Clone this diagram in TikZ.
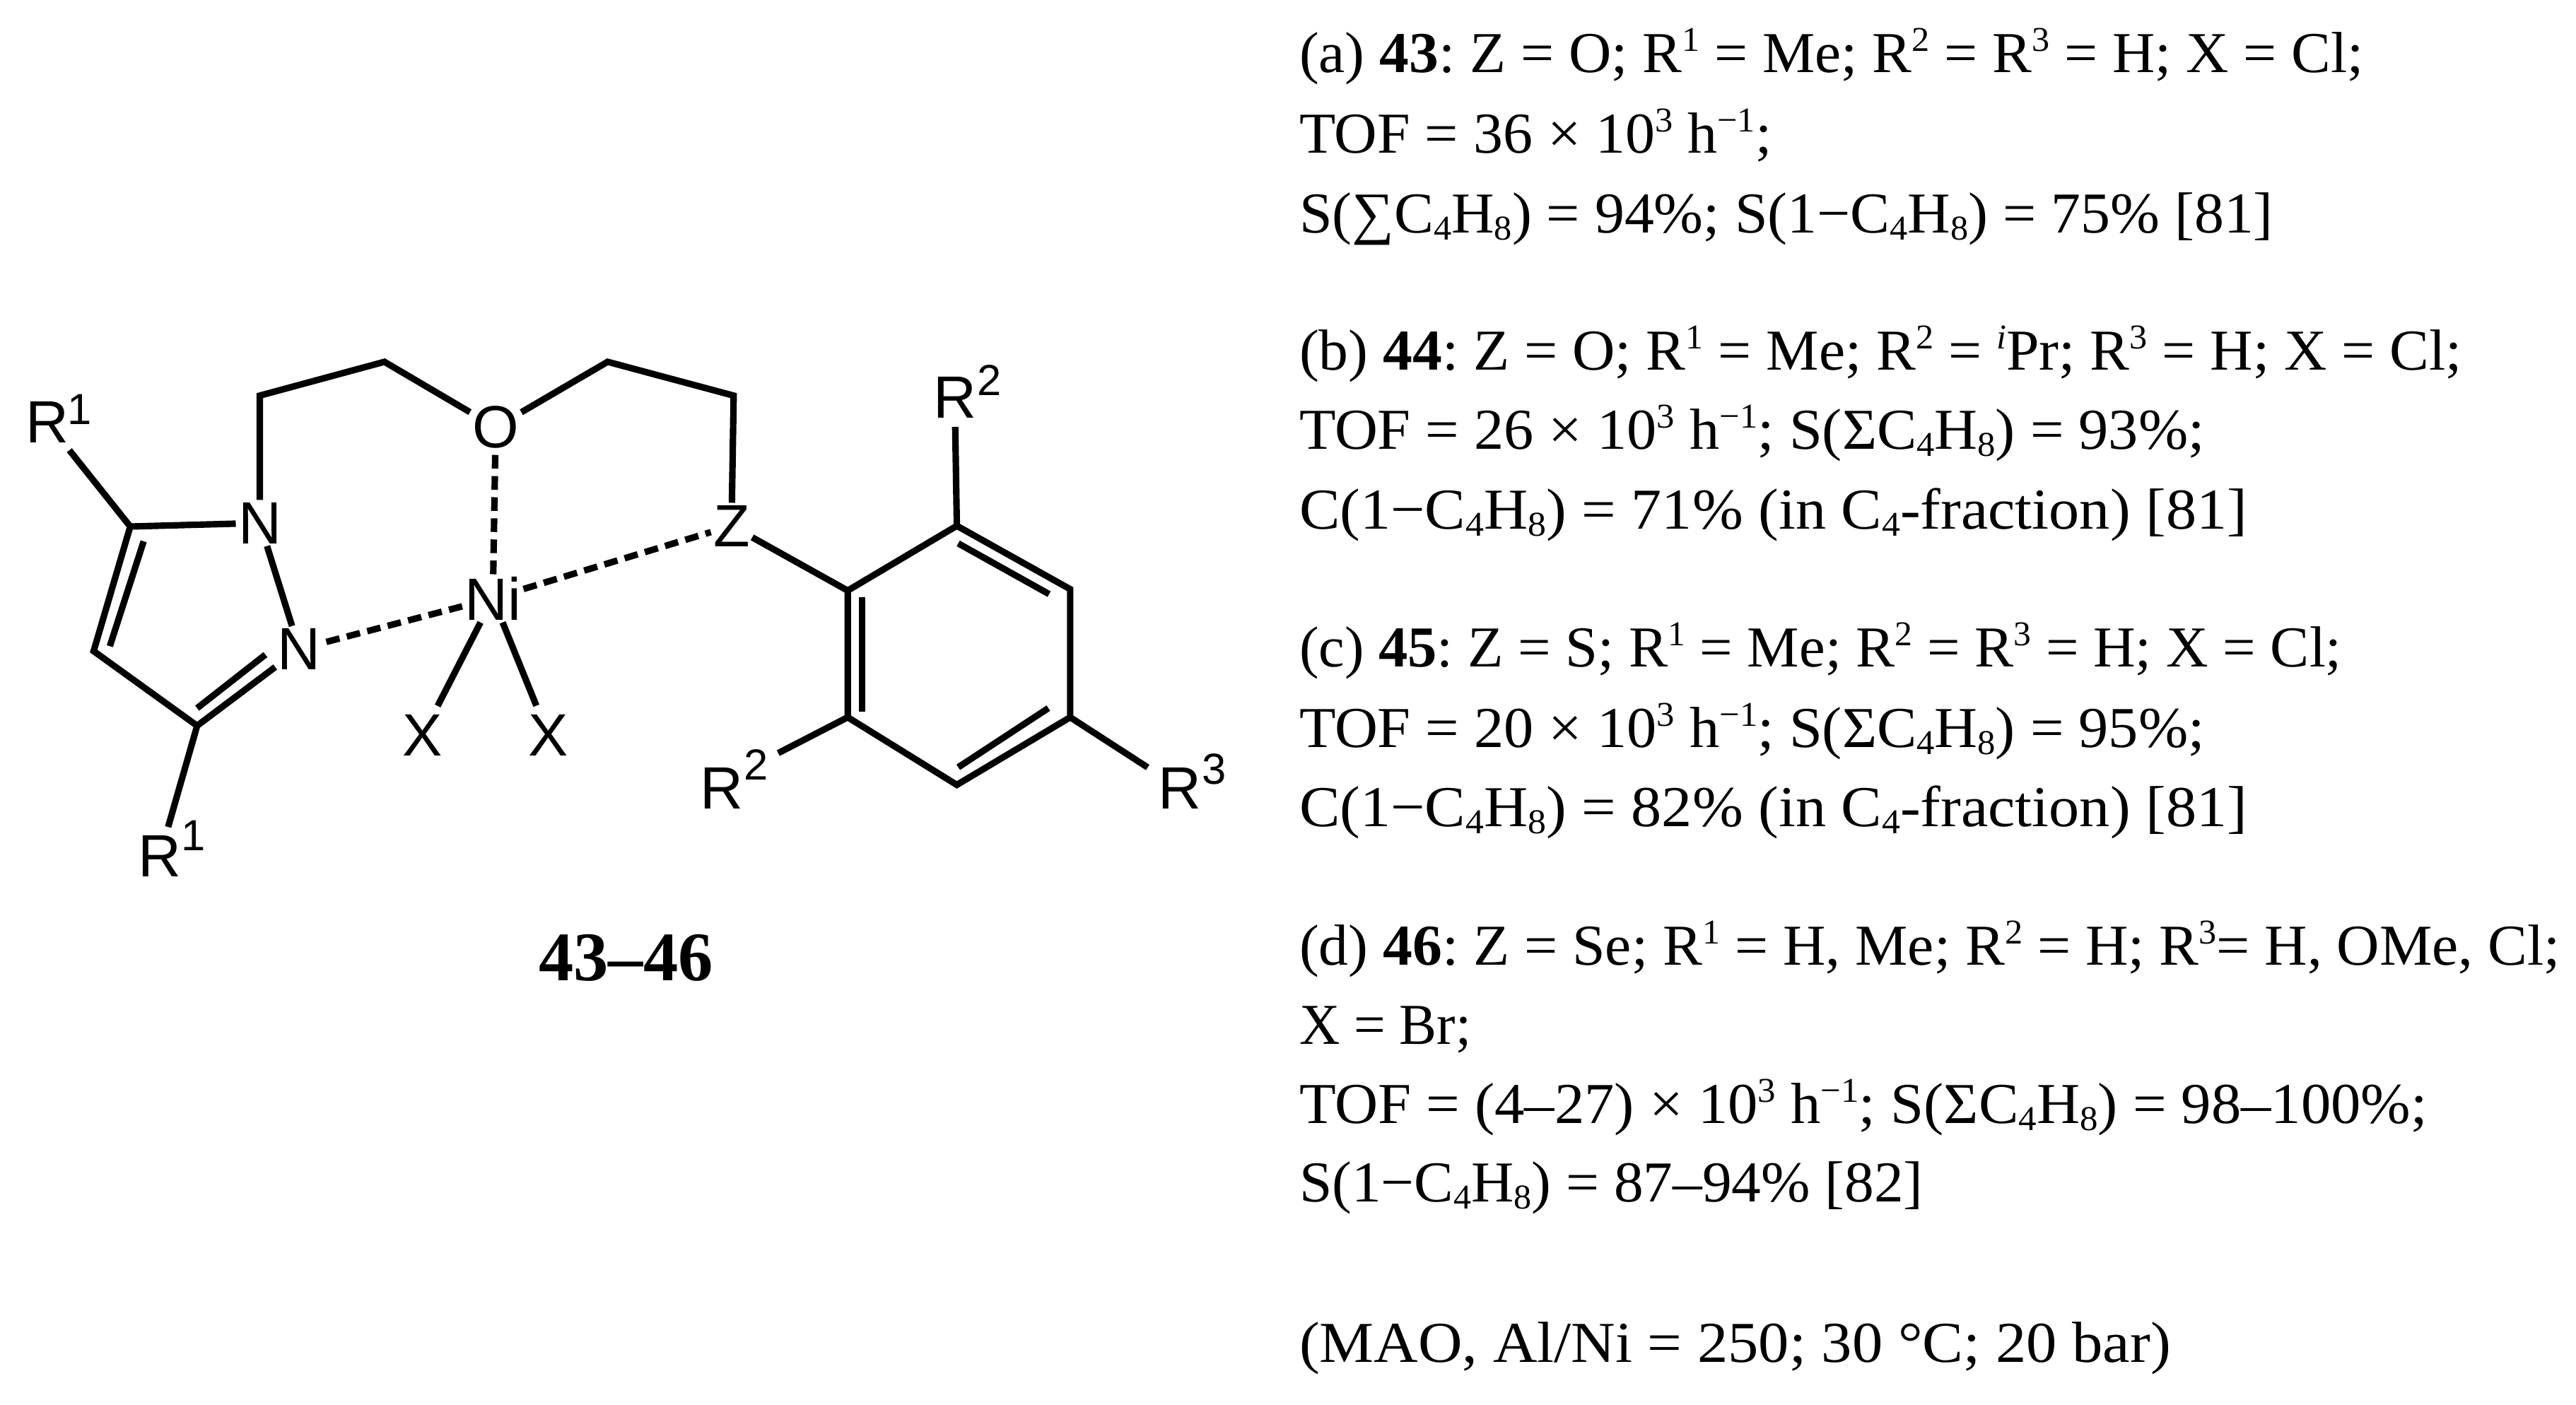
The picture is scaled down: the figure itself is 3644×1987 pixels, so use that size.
\documentclass[tikz,border=0pt]{standalone}
\usepackage{graphicx}
\usepackage{fontspec}
\setmainfont{Liberation Serif}
\newfontfamily\chemfont{Liberation Sans}
\newcommand\lsub[1]{\raisebox{-0.13em}{\fontsize{14}{14}\selectfont #1}}
\newcommand\lsup[1]{\raisebox{0.36em}{\fontsize{14}{14}\selectfont #1}}
\newcommand\fitline[2]{\resizebox{#1cm}{\height}{#2}}
\tikzset{
  atom/.style={inner sep=1pt,outer sep=0pt,font=\chemfont\fontsize{24}{28}\selectfont},
  supr/.style={inner sep=0pt,outer sep=0pt,font=\chemfont\fontsize{17.5}{20}\selectfont},
  bond/.style={line width=2.6pt,line join=miter,line cap=butt},
  dbond/.style={line width=2.6pt,dash pattern=on 5.5pt off 3pt},
  txt/.style={anchor=base west,inner sep=0pt,outer sep=0pt,font=\frenchspacing\fontsize{23.3}{28}\selectfont},
}
\begin{document}
\begin{tikzpicture}[x=0.01cm,y=-0.01cm]
\path[use as bounding box] (0,0) rectangle (3644,1987);
\begin{scope}[xscale=0.996,yscale=0.996]
% vertices
\coordinate (C5) at (185,748);
\coordinate (C4) at (133,925);
\coordinate (C3) at (280,1031);
\coordinate (a1) at (369,562);
\coordinate (a2) at (546,514);
\coordinate (b1) at (863,514);
\coordinate (b2) at (1042,562);
\coordinate (r1) at (1204,839);
\coordinate (r2) at (1359,747);
\coordinate (r3) at (1520,837);
\coordinate (r4) at (1520,1019);
\coordinate (r5) at (1359,1115);
\coordinate (r6) at (1204,1019);
% inner double-bond ends
\coordinate (iA1) at (204,769);
\coordinate (iA2) at (156,918);
\coordinate (iB1) at (280,1006);
\coordinate (iB2) at (377,930);
\coordinate (iC1) at (1361,772);
\coordinate (iC2) at (1490,844);
\coordinate (iD1) at (1224,848);
\coordinate (iD2) at (1224,1011);
\coordinate (iE1) at (1361,1090);
\coordinate (iE2) at (1489,1006);
% atoms
\node[atom] (N1) at (369,743) {N};
\node[atom] (N2) at (425,922) {N};
\node[atom] (Ni) at (700,850) {Ni};
\node[atom] (O) at (704,607) {O};
\node[atom] (Z) at (1039,747) {Z};
\node[atom] (X1) at (600,1045) {X};
\node[atom] (X2) at (779,1045) {X};
\node[atom] (R1a) at (67,600) {R};
\node[supr] (s1a) at (113,582) {1};
\node[atom] (R1b) at (227,1216) {R};
\node[supr] (s1b) at (275,1187) {1};
\node[atom] (R2a) at (1356,565) {R};
\node[supr] (s2a) at (1405,540) {2};
\node[atom] (R2b) at (1025,1120) {R};
\node[supr] (s2b) at (1074,1086) {2};
\node[atom] (R3) at (1676,1120) {R};
\node[supr] (s3) at (1724,1093) {3};
\node[anchor=base,inner sep=0pt,font=\fontsize{28}{32}\selectfont\bfseries] (lab) at (889,1393) {43–46};
% bonds
\draw[bond] (N1) -- (a1) -- (a2) -- (O);
\draw[bond] (O) -- (b1) -- (b2) -- (Z);
\draw[bond] (N1) -- (C5) -- (C4) -- (C3) -- (N2);
\draw[bond] (N1) -- (N2);
\draw[bond,shorten >=2.5pt] (C5) -- (R1a);
\draw[bond,shorten >=2.5pt] (C3) -- (R1b);
\draw[bond] (iA1) -- (iA2);
\draw[bond] (iB1) -- (iB2);
\draw[bond] (Z) -- (r1);
\draw[bond] (r1) -- (r2) -- (r3) -- (r4) -- (r5) -- (r6) -- cycle;
\draw[bond,shorten >=2.5pt] (r2) -- (R2a);
\draw[bond,shorten >=4.5pt] (r6) -- (s2b);
\draw[bond,shorten >=4pt] (r4) -- (R3);
\draw[bond] (iC1) -- (iC2);
\draw[bond] (iD1) -- (iD2);
\draw[bond] (iE1) -- (iE2);
\draw[bond,shorten >=3pt] (Ni) -- (X1);
\draw[bond,shorten >=3pt] (Ni) -- (X2);
\draw[dbond] (Ni) -- (N2);
\draw[dbond] (Ni) -- (O);
\draw[dbond] (Ni) -- (Z);
\end{scope}
% text
\node[txt] (a1t) at (1838,102) {\fitline{15.05}{(a) \textbf{43}: Z = O; R\lsup{1} = Me; R\lsup{2} = R\lsup{3} = H; X = Cl;}};
\node[txt] (a2t) at (1838,216) {\fitline{6.68}{TOF = 36 × 10\lsup{3} h\lsup{−1};}};
\node[txt] (a3t) at (1838,329) {\fitline{13.77}{S(∑C\lsub{4}H\lsub{8}) = 94\%; S(1−C\lsub{4}H\lsub{8}) = 75\% [81]}};
\node[txt] (b1t) at (1838,523) {\fitline{16.44}{(b) \textbf{44}: Z = O; R\lsup{1} = Me; R\lsup{2} = \lsup{\itshape i}Pr; R\lsup{3} = H; X = Cl;}};
\node[txt] (b2t) at (1838,635) {\fitline{12.80}{TOF = 26 × 10\lsup{3} h\lsup{−1}; S(ΣC\lsub{4}H\lsub{8}) = 93\%;}};
\node[txt] (b3t) at (1838,748) {\fitline{13.40}{C(1−C\lsub{4}H\lsub{8}) = 71\% (in C\lsub{4}-fraction) [81]}};
\node[txt] (c1t) at (1838,943) {\fitline{14.74}{(c) \textbf{45}: Z = S; R\lsup{1} = Me; R\lsup{2} = R\lsup{3} = H; X = Cl;}};
\node[txt] (c2t) at (1838,1057) {\fitline{12.80}{TOF = 20 × 10\lsup{3} h\lsup{−1}; S(ΣC\lsub{4}H\lsub{8}) = 95\%;}};
\node[txt] (c3t) at (1838,1169) {\fitline{13.40}{C(1−C\lsub{4}H\lsub{8}) = 82\% (in C\lsub{4}-fraction) [81]}};
\node[txt] (d1t) at (1838,1365) {\fitline{17.83}{(d) \textbf{46}: Z = Se; R\lsup{1} = H, Me; R\lsup{2} = H; R\lsup{3}= H, OMe, Cl;}};
\node[txt] (d2t) at (1838,1477) {\fitline{2.43}{X = Br;}};
\node[txt] (d3t) at (1838,1589) {\fitline{15.95}{TOF = (4–27) × 10\lsup{3} h\lsup{−1}; S(ΣC\lsub{4}H\lsub{8}) = 98–100\%;}};
\node[txt] (d4t) at (1838,1700) {\fitline{8.82}{S(1−C\lsub{4}H\lsub{8}) = 87–94\% [82]}};
\node[txt] (mao) at (1838,1927) {\fitline{12.32}{(MAO, Al/Ni = 250; 30 °C; 20 bar)}};
\end{tikzpicture}
\end{document}
